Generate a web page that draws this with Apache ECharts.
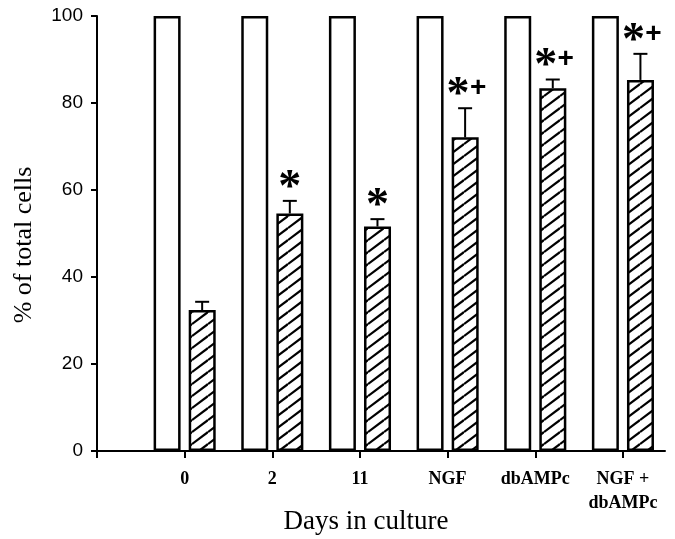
<!DOCTYPE html>
<html>
<head>
<meta charset="utf-8">
<script src="https://cdn.jsdelivr.net/npm/echarts@6/dist/echarts.min.js"></script>
<style>
  html, body { margin: 0; padding: 0; background: #fff; }
  #chart { width: 675px; height: 539px; }
</style>
</head>
<body>
<div id="chart"></div>
<script>
// categories along the x axis (placed at 1..6)
const xLabels = ['0', '2', '11', 'NGF', 'dbAMPc', 'NGF +\ndbAMPc'];
const yTicks = [0, 20, 40, 60, 80, 100];

// open bars: total cells, hatched bars: marked cells (+ upper SEM)
const totalCells = [100, 100, 100, 100, 100, 100];
const markedCells = [32.4, 54.6, 51.6, 72.1, 83.4, 85.3];
const markedErr = [1.9, 2.9, 1.7, 6.7, 2.0, 6.0];
const marks = ['', '*', '*', '*+', '*+', '*+'];

// diagonal hatch
const hatch = document.createElement('canvas');
hatch.width = 16;
hatch.height = 12;
const hc = hatch.getContext('2d');
hc.fillStyle = '#fff';
hc.fillRect(0, 0, 16, 12);
hc.strokeStyle = '#000';
hc.lineWidth = 2.2;
for (let k = -1; k <= 1; k++) {
    hc.beginPath();
    hc.moveTo(0, 12 + 12 * k);
    hc.lineTo(16, 12 * k);
    hc.stroke();
}

const chart = echarts.init(document.getElementById('chart'));

const barOffset = 17.5; // half gap + half bar width, px

chart.setOption({
    animation: false,
    backgroundColor: '#fff',
    grid: { left: 97, right: 10, top: 16, bottom: 88, outerBoundsMode: 'none' },
    xAxis: {
        type: 'value',
        min: 0,
        max: 6.48,
        name: 'Days in culture',
        nameLocation: 'middle',
        nameGap: 57,
        nameMoveOverlap: false,
        nameTextStyle: {
            fontFamily: 'Liberation Serif', fontSize: 27, color: '#000',
            padding: [0, 30, 0, 0]
        },
        axisLine: { lineStyle: { color: '#000', width: 2 } },
        axisTick: {
            length: 7, lineStyle: { color: '#000', width: 2 },
            customValues: [0, 1, 2, 3, 4, 5, 6]
        },
        axisLabel: {
            customValues: [1, 2, 3, 4, 5, 6],
            formatter: v => xLabels[v - 1] || '',
            fontFamily: 'Liberation Serif', fontWeight: 'bold', fontSize: 18,
            lineHeight: 24, color: '#000', margin: 16
        },
        splitLine: { show: false }
    },
    yAxis: {
        type: 'value',
        min: 0,
        max: 100,
        interval: 20,
        name: '% of total cells',
        nameLocation: 'middle',
        nameGap: 60,
        nameMoveOverlap: false,
        nameTextStyle: {
            fontFamily: 'Liberation Serif', fontSize: 26, color: '#000',
            padding: [0, 23, 0, 0]
        },
        axisLine: { show: true, lineStyle: { color: '#000', width: 2 } },
        axisTick: { show: true, length: 6, lineStyle: { color: '#000', width: 2 } },
        axisLabel: {
            formatter: v => (yTicks.includes(v) ? String(v) : ''),
            fontFamily: 'Liberation Sans', fontSize: 19, color: '#000', margin: 14
        },
        splitLine: { show: false }
    },
    series: [
        {
            name: 'total',
            type: 'bar',
            barWidth: 27,
            barGap: '30%',
            data: totalCells.map((v, i) => [i + 1, v]),
            itemStyle: { color: '#fff', borderColor: '#000', borderWidth: 2.5 }
        },
        {
            name: 'marked',
            type: 'bar',
            barWidth: 27,
            barGap: '30%',
            data: markedCells.map((v, i) => [i + 1, v]),
            itemStyle: {
                color: { image: hatch, repeat: 'repeat' },
                borderColor: '#000', borderWidth: 2.5
            }
        },
        {
            name: 'sem',
            type: 'custom',
            data: markedCells.map((v, i) => [i + 1, v, markedErr[i]]),
            z: 5,
            renderItem: (params, api) => {
                const x = api.value(0);
                const v = api.value(1);
                const e = api.value(2);
                const base = api.coord([x, v]);
                const top = api.coord([x, v + e]);
                const cx = base[0] + barOffset;
                const ty = top[1];
                const line = { stroke: '#000', lineWidth: 2 };
                const children = [
                    { type: 'line', shape: { x1: cx, y1: base[1], x2: cx, y2: ty }, style: line },
                    { type: 'line', shape: { x1: cx - 7, y1: ty, x2: cx + 7, y2: ty }, style: line }
                ];
                const m = marks[params.dataIndex];
                const hasPlus = m.indexOf('+') >= 0;
                if (m.indexOf('*') >= 0) {
                    children.push({
                        type: 'text',
                        style: {
                            text: '*', x: cx + (hasPlus ? -7 : 0), y: ty - 12,
                            font: 'bold 46px "Liberation Serif"', fill: '#000',
                            align: 'center', verticalAlign: 'middle'
                        }
                    });
                }
                if (hasPlus) {
                    children.push({
                        type: 'text',
                        style: {
                            text: '+', x: cx + 13, y: ty - 20,
                            font: 'bold 28px "Liberation Sans"', fill: '#000',
                            align: 'center', verticalAlign: 'middle'
                        }
                    });
                }
                return { type: 'group', children: children };
            }
        }
    ]
});
</script>
</body>
</html>
